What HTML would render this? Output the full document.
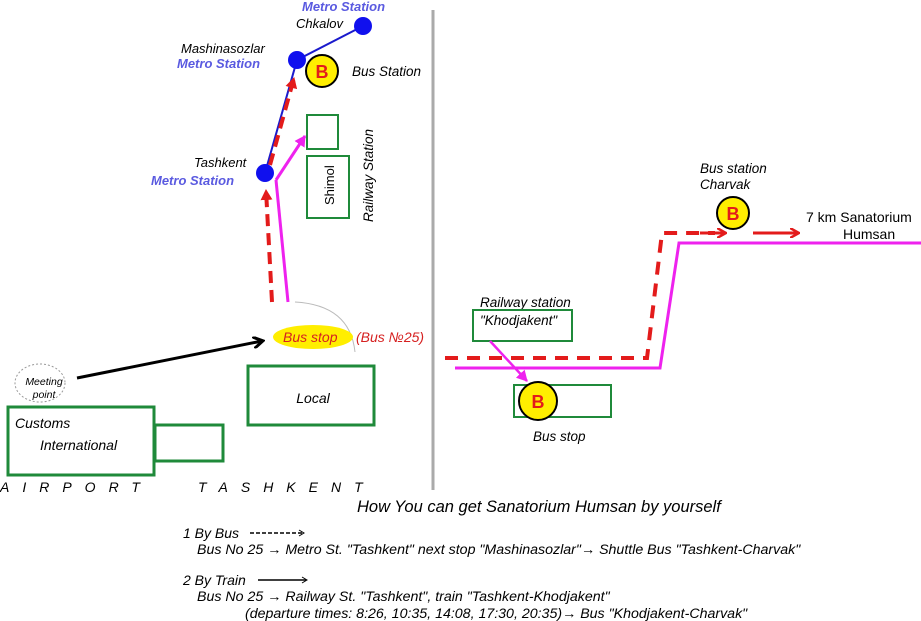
<!DOCTYPE html>
<html><head><meta charset="utf-8"><style>
html,body{margin:0;padding:0;background:#fff;}
svg{display:block;font-family:"Liberation Sans",sans-serif;}
.i{font-style:italic}
</style></head><body>
<svg width="921" height="621" viewBox="0 0 921 621" xmlns="http://www.w3.org/2000/svg">
<defs>
<marker id="ar" markerWidth="10" markerHeight="10" refX="8" refY="5" orient="auto" markerUnits="userSpaceOnUse"><path d="M0,0 L9,5 L0,10" fill="none" stroke="#e31b1b" stroke-width="2.5"/></marker>
<marker id="am" markerWidth="12" markerHeight="12" refX="10" refY="6" orient="auto" markerUnits="userSpaceOnUse"><path d="M0,0 L11,6 L0,12 z" fill="#ee22ee"/></marker>
<marker id="ab" markerWidth="12" markerHeight="12" refX="9" refY="6" orient="auto" markerUnits="userSpaceOnUse"><path d="M0,0 L10,6 L0,12" fill="none" stroke="#000" stroke-width="3"/></marker>
<marker id="aR" markerWidth="12" markerHeight="12" refX="10" refY="6" orient="auto" markerUnits="userSpaceOnUse"><path d="M0,0 L11,6 L0,12 z" fill="#e31b1b"/></marker>
</defs>
<line x1="433" y1="10" x2="433" y2="490" stroke="#aaa" stroke-width="3"/>
<!-- metro -->
<polyline points="363,26 297,60 265,173" fill="none" stroke="#1a1acc" stroke-width="2"/>
<circle cx="363" cy="26" r="9" fill="#1010ee"/>
<circle cx="297" cy="60" r="9" fill="#1010ee"/>
<circle cx="265" cy="173" r="9" fill="#1010ee"/>
<text x="302" y="11" class="i" font-size="13" font-weight="bold" fill="#5a5ae0">Metro Station</text>
<text x="296" y="28" class="i" font-size="13">Chkalov</text>
<text x="181" y="53" class="i" font-size="13">Mashinasozlar</text>
<text x="177" y="68" class="i" font-size="13" font-weight="bold" fill="#5a5ae0">Metro Station</text>
<text x="194" y="167" class="i" font-size="13">Tashkent</text>
<text x="151" y="185" class="i" font-size="13" font-weight="bold" fill="#5a5ae0">Metro Station</text>
<circle cx="322" cy="71" r="16" fill="#ffee00" stroke="#000" stroke-width="2"/>
<text x="322" y="78" text-anchor="middle" font-size="18" font-weight="bold" fill="#e31b1b">B</text>
<text x="352" y="76" class="i" font-size="13.5">Bus Station</text>
<rect x="307" y="115" width="31" height="34" fill="none" stroke="#1f8a3a" stroke-width="2"/>
<rect x="307" y="156" width="42" height="62" fill="none" stroke="#1f8a3a" stroke-width="2"/>
<text transform="translate(334,205) rotate(-90)" font-size="13">Shimol</text>
<text transform="translate(373,222) rotate(-90)" class="i" font-size="13.5">Railway Station</text>
<!-- routes -->
<line x1="272" y1="302" x2="266" y2="190" stroke="#e31b1b" stroke-width="4" stroke-dasharray="12,7" marker-end="url(#aR)"/>
<line x1="270" y1="165" x2="294" y2="78" stroke="#e31b1b" stroke-width="4" stroke-dasharray="12,7" marker-end="url(#aR)"/>
<polyline points="288,302 276,180" fill="none" stroke="#ee22ee" stroke-width="3"/>
<line x1="276" y1="180" x2="305" y2="136" stroke="#ee22ee" stroke-width="3" marker-end="url(#am)"/>
<path d="M295,302 Q350,305 355,352" fill="none" stroke="#bbb" stroke-width="1"/>
<ellipse cx="313" cy="337" rx="40" ry="12" fill="#ffee00"/>
<text x="283" y="342" class="i" font-size="14" fill="#d62020">Bus stop</text>
<text x="356" y="342" class="i" font-size="14" fill="#d62020">(Bus №25)</text>
<ellipse cx="40" cy="383" rx="25" ry="19" fill="none" stroke="#999" stroke-width="1" stroke-dasharray="2,2"/>
<text x="44" y="385" text-anchor="middle" class="i" font-size="10.5">Meeting</text>
<text x="44" y="398" text-anchor="middle" class="i" font-size="10.5">point</text>
<line x1="77" y1="378" x2="262" y2="341" stroke="#000" stroke-width="3" marker-end="url(#ab)"/>
<rect x="248" y="366" width="126" height="59" fill="none" stroke="#1f8a3a" stroke-width="3"/>
<text x="313" y="403" text-anchor="middle" class="i" font-size="14">Local</text>
<rect x="8" y="407" width="146" height="68" fill="none" stroke="#1f8a3a" stroke-width="3"/>
<rect x="155" y="425" width="68" height="36" fill="none" stroke="#1f8a3a" stroke-width="3"/>
<text x="15" y="428" class="i" font-size="14">Customs</text>
<text x="40" y="450" class="i" font-size="14">International</text>
<text x="0" y="492" class="i" font-size="14" letter-spacing="13">AIRPORT</text>
<text x="198" y="492" class="i" font-size="14" letter-spacing="13">TASHKENT</text>
<!-- right -->
<polyline points="445,358 647,358 662,233 715,233" fill="none" stroke="#e31b1b" stroke-width="4" stroke-dasharray="13,9"/>
<line x1="700" y1="233" x2="725" y2="233" stroke="#e31b1b" stroke-width="3" marker-end="url(#ar)"/>
<line x1="753" y1="233" x2="798" y2="233" stroke="#e31b1b" stroke-width="3" marker-end="url(#ar)"/>
<polyline points="455,368 660,368 679,243 921,243" fill="none" stroke="#ee22ee" stroke-width="3"/>
<circle cx="733" cy="213" r="16" fill="#ffee00" stroke="#000" stroke-width="2"/>
<text x="733" y="220" text-anchor="middle" font-size="18" font-weight="bold" fill="#e31b1b">B</text>
<text x="700" y="173" class="i" font-size="13.5">Bus station</text>
<text x="700" y="189" class="i" font-size="13.5">Charvak</text>
<text x="806" y="222" font-size="14">7 km Sanatorium</text>
<text x="843" y="239" font-size="14">Humsan</text>
<text x="480" y="307" class="i" font-size="13.5">Railway station</text>
<rect x="473" y="310" width="99" height="31" fill="none" stroke="#1f8a3a" stroke-width="2"/>
<text x="480" y="325" class="i" font-size="13.5">"Khodjakent"</text>
<line x1="490" y1="341" x2="527" y2="381" stroke="#ee22ee" stroke-width="2.5" marker-end="url(#am)"/>
<rect x="514" y="385" width="97" height="32" fill="none" stroke="#1f8a3a" stroke-width="2"/>
<circle cx="538" cy="401" r="19" fill="#ffee00" stroke="#000" stroke-width="2"/>
<text x="538" y="408" text-anchor="middle" font-size="18" font-weight="bold" fill="#e31b1b">B</text>
<text x="533" y="441" class="i" font-size="13.5">Bus stop</text>
<!-- legend -->
<text x="357" y="512" class="i" font-size="16.5">How You can get Sanatorium Humsan by yourself</text>
<text x="183" y="538" class="i" font-size="14">1 By Bus</text>
<line x1="250" y1="533" x2="302" y2="533" stroke="#000" stroke-width="1.5" stroke-dasharray="4,2"/>
<path d="M299,530 L304,533 L299,536" fill="none" stroke="#000"/>
<text x="197" y="554" class="i" font-size="14.2">Bus No 25 → Metro St. "Tashkent" next stop "Mashinasozlar"→ Shuttle Bus "Tashkent-Charvak"</text>
<text x="183" y="585" class="i" font-size="14">2 By Train</text>
<line x1="258" y1="580" x2="306" y2="580" stroke="#000" stroke-width="1.5"/>
<path d="M302,577 L307,580 L302,583" fill="none" stroke="#000"/>
<text x="197" y="601" class="i" font-size="14.2">Bus No 25 → Railway St. "Tashkent", train "Tashkent-Khodjakent"</text>
<text x="245" y="618" class="i" font-size="14.2">(departure times: 8:26, 10:35, 14:08, 17:30, 20:35)→  Bus "Khodjakent-Charvak"</text>
</svg>
</body></html>
